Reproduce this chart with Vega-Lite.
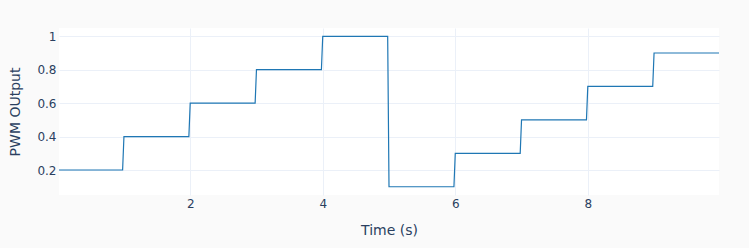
{
  "$schema": "https://vega.github.io/schema/vega-lite/v6.json",
  "width": 660,
  "height": 167,
  "autosize": {"type": "none"},
  "padding": {"left": 59, "top": 28, "right": 30, "bottom": 53},
  "background": "#fafafa",
  "config": {
    "view": {"stroke": null, "fill": "white"},
    "font": "DejaVu Sans",
    "axis": {
      "domain": false,
      "ticks": false,
      "gridColor": "#EBF0F8",
      "gridWidth": 1,
      "labelColor": "#2a3f5f",
      "labelFont": "DejaVu Sans",
      "labelFontSize": 12,
      "titleColor": "#2a3f5f",
      "titleFont": "DejaVu Sans",
      "titleFontSize": 14,
      "titleFontWeight": "normal"
    }
  },
  "data": {
    "values": [
      {"t": 0.02, "v": 0.2}, {"t": 0.98, "v": 0.2},
      {"t": 1.0, "v": 0.4}, {"t": 1.98, "v": 0.4},
      {"t": 2.0, "v": 0.6}, {"t": 2.98, "v": 0.6},
      {"t": 3.0, "v": 0.8}, {"t": 3.98, "v": 0.8},
      {"t": 4.0, "v": 1.0}, {"t": 4.98, "v": 1.0},
      {"t": 5.0, "v": 0.1}, {"t": 5.98, "v": 0.1},
      {"t": 6.0, "v": 0.3}, {"t": 6.98, "v": 0.3},
      {"t": 7.0, "v": 0.5}, {"t": 7.98, "v": 0.5},
      {"t": 8.0, "v": 0.7}, {"t": 8.98, "v": 0.7},
      {"t": 9.0, "v": 0.9}, {"t": 9.98, "v": 0.9}
    ]
  },
  "mark": {"type": "line", "color": "#1f77b4", "strokeWidth": 1.2, "clip": true},
  "encoding": {
    "x": {
      "field": "t",
      "type": "quantitative",
      "scale": {"domain": [0.02, 9.98], "nice": false, "zero": false},
      "axis": {"title": "Time (s)", "values": [2, 4, 6, 8], "labelPadding": 3, "titlePadding": 14, "format": "d"}
    },
    "y": {
      "field": "v",
      "type": "quantitative",
      "scale": {"domain": [0.0505, 1.0495], "nice": false, "zero": false},
      "axis": {"title": "PWM OUtput", "values": [0.2, 0.4, 0.6, 0.8, 1], "labelPadding": 3, "titlePadding": 14, "format": "~g"}
    }
  }
}
